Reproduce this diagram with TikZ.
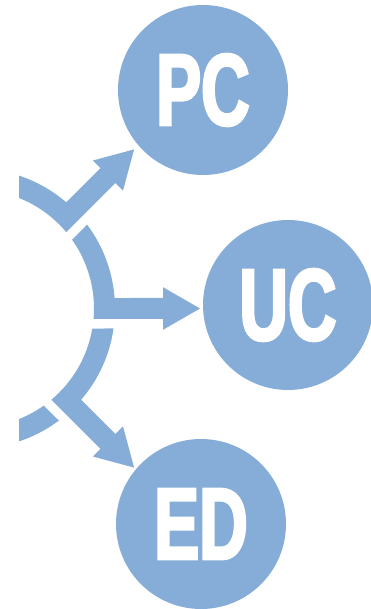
\documentclass[tikz,border=0pt]{standalone}
\usepackage{fontspec}
\newfontfamily\circfont{Liberation Sans}[FakeStretch=0.66,FakeBold=2.5]
\definecolor{arcblue}{RGB}{134,172,216}

\tikzset{
  disc/.style={circle, fill=arcblue, minimum size=170pt, inner sep=0pt,
    text=white, font=\circfont\bfseries\fontsize{102}{102}\selectfont},
}

\begin{document}
\begin{tikzpicture}[x=1pt, y=1pt]
  \useasboundingbox (25,-300.5) rectangle (396,308.5);

  % centre of the broken ring
  \coordinate (hub) at (0,0);

  \begin{scope}
    \clip (44,-300.5) rectangle (396,308.5);
    % ring pieces, each one bending out into an arrow
    \foreach \dir in {45,0,-45}{
      \fill[arcblue, rotate=\dir] (35.3:119) -- (36.8:140)
        arc[start angle=36.8, end angle=4.3, radius=140pt]
        -- (188,10.5) -- (188,21.3) -- (225,0) -- (188,-21.3) -- (188,-10.5)
        -- (-5.06:119) arc[start angle=-5.06, end angle=35.3, radius=119pt] -- cycle;
    }
    % last piece of the ring, no arrow
    \fill[arcblue, rotate=-90] (35.3:119) -- (36.8:140)
      arc[start angle=36.8, end angle=-30, radius=140pt]
      -- (-30:119) arc[start angle=-30, end angle=35.3, radius=119pt] -- cycle;
  \end{scope}

  % the three circles
  \node[disc] (pc) at (228,218.5) {PC};
  \node[disc] (uc) at (313,3.5) {UC};
  \node[disc] (ed) at (226,-215.5) {ED};
\end{tikzpicture}
\end{document}
